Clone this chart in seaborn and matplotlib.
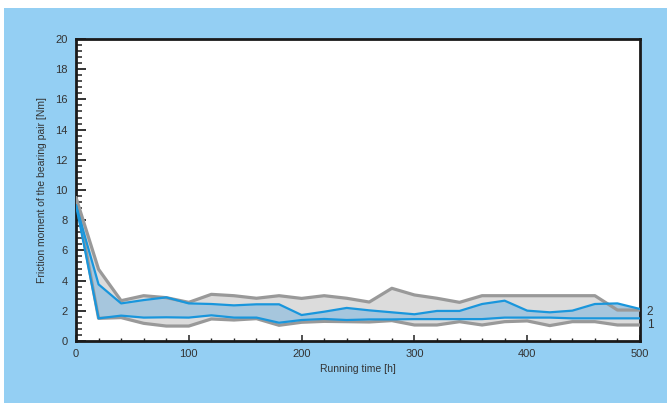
import matplotlib
matplotlib.use("Agg")
import matplotlib.pyplot as plt
from matplotlib.patches import Rectangle
from matplotlib.ticker import MultipleLocator
import pandas as pd
import seaborn as sns

# Running time [h]
hours = [0, 20, 40, 60, 80, 100, 120, 140, 160, 180, 200, 220, 240, 260,
         280, 300, 320, 340, 360, 380, 400, 420, 440, 460, 480, 500]

# Envelope of all measurements (gray band)
env_upper = [9.5, 4.75, 2.67, 3.0, 2.87, 2.56, 3.09, 3.0, 2.83, 3.0, 2.82, 3.0, 2.83, 2.58,
             3.49, 3.05, 2.83, 2.56, 3.0, 3.0, 3.0, 3.0, 3.0, 3.0, 2.05, 2.05]
env_lower = [9.5, 1.5, 1.55, 1.17, 0.99, 0.99, 1.46, 1.39, 1.48, 1.04, 1.24, 1.30, 1.28, 1.26,
             1.35, 1.06, 1.06, 1.28, 1.06, 1.28, 1.33, 1.02, 1.28, 1.28, 1.06, 1.06]

# Curve 2 (upper blue) and curve 1 (lower blue)
curve2 = [9.0, 3.75, 2.49, 2.71, 2.89, 2.49, 2.45, 2.36, 2.43, 2.43, 1.72, 1.94, 2.19, 2.03,
          1.9, 1.77, 1.99, 1.99, 2.45, 2.67, 2.01, 1.9, 2.01, 2.45, 2.49, 2.12]
curve1 = [9.0, 1.5, 1.68, 1.55, 1.57, 1.55, 1.7, 1.55, 1.55, 1.21, 1.39, 1.46, 1.39, 1.43,
          1.43, 1.45, 1.45, 1.45, 1.45, 1.55, 1.55, 1.55, 1.5, 1.5, 1.5, 1.5]

curve_labels = ["2", "1"]

sns.set_style("white")
plt.rcParams["font.family"] = ["Liberation Sans", "DejaVu Sans"]

BG_BLUE = "#94cff3"
GRAY_LINE = "#999999"
GRAY_FILL = "#dcdcdc"
BLUE_LINE = "#1996dc"
BLUE_FILL = "#a6c6dd"
TEXT = "#333333"

fig = plt.figure(figsize=(6.67, 4.03), dpi=100, facecolor="white")
panel = Rectangle((4 / 667, 0), 663 / 667, 1 - 8 / 403,
                  transform=fig.transFigure, facecolor=BG_BLUE,
                  edgecolor="none", zorder=-10)
fig.add_artist(panel)

ax = fig.add_axes([76 / 667, 1 - 341 / 403, 564 / 667, 302 / 403])
ax.set_zorder(1)
ax.set_facecolor("white")

df = pd.DataFrame({"hours": hours, "env_upper": env_upper, "env_lower": env_lower,
                   "curve2": curve2, "curve1": curve1})

ax.fill_between(df["hours"], df["env_lower"], df["env_upper"], color=GRAY_FILL, lw=0, zorder=1)
ax.fill_between(df["hours"], df["curve1"], df["curve2"], color=BLUE_FILL, lw=0, zorder=2)

for col in ["env_upper", "env_lower"]:
    sns.lineplot(data=df, x="hours", y=col, ax=ax, color=GRAY_LINE, lw=2.3, zorder=3)
for col in ["curve2", "curve1"]:
    sns.lineplot(data=df, x="hours", y=col, ax=ax, color=BLUE_LINE, lw=1.6, zorder=4)

ax.set_xlim(0, 500)
ax.set_ylim(0, 20)
ax.xaxis.set_major_locator(MultipleLocator(100))
ax.xaxis.set_minor_locator(MultipleLocator(20))
ax.yaxis.set_major_locator(MultipleLocator(2))
ax.yaxis.set_minor_locator(MultipleLocator(0.4))

ax.tick_params(axis="y", which="major", direction="in", length=7.5, width=1.3,
               color="#222222", labelsize=8, labelcolor=TEXT, pad=6, left=True)
ax.tick_params(axis="y", which="minor", direction="in", length=4, width=1.1,
               color="#222222", left=True)
ax.tick_params(axis="x", which="major", direction="in", length=4.5, width=1.1,
               color="#222222", labelsize=8, labelcolor=TEXT, pad=6, bottom=True)
ax.tick_params(axis="x", which="minor", direction="in", length=2.5, width=1.0,
               color="#222222", bottom=True)

for side in ["left", "right", "top", "bottom"]:
    ax.spines[side].set_visible(True)
    ax.spines[side].set_color("#1a1a1a")
    ax.spines[side].set_linewidth(2.0)

ax.set_xlabel("Running time [h]", fontsize=7.5, color=TEXT, labelpad=3)
ax.set_ylabel("Friction moment of the bearing pair [Nm]", fontsize=7.5, color=TEXT, labelpad=6)

ax.text(506, curve2[-1] - 0.2, curve_labels[0], fontsize=8.5, color=TEXT,
        ha="left", va="center", clip_on=False)
ax.text(506, env_lower[-1], curve_labels[1], fontsize=8.5, color=TEXT,
        ha="left", va="center", clip_on=False)

fig.savefig("out.png", dpi=100, facecolor=fig.get_facecolor())
